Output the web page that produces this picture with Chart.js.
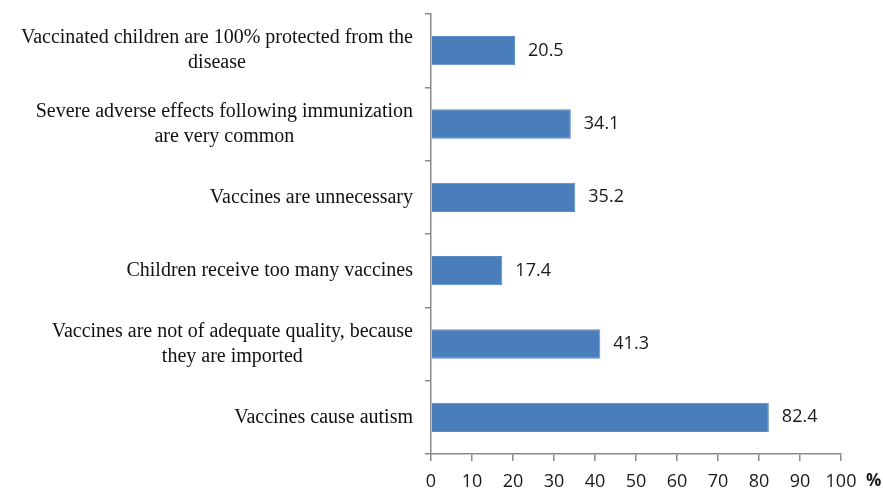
<!DOCTYPE html>
<html>
<head>
<meta charset="utf-8">
<script src="https://cdn.jsdelivr.net/npm/chart.js@4"></script>
<style>
html,body{margin:0;padding:0;background:#fff;}
#wrap{width:883px;height:493px;}
</style>
</head>
<body>
<div id="wrap"><canvas id="c" width="883" height="493"></canvas></div>
<script>
const categories = [
  ["Vaccinated children are 100% protected from the", "disease"],
  ["Severe adverse effects following immunization", "are very common"],
  ["Vaccines are unnecessary"],
  ["Children receive too many vaccines"],
  ["Vaccines are not of adequate quality, because", "they are imported"],
  ["Vaccines cause autism"]
];
const values = [20.5, 34.1, 35.2, 17.4, 41.3, 82.4];
const xTicks = [0, 10, 20, 30, 40, 50, 60, 70, 80, 90, 100];
const unitLabel = "%";

const AXIS = '#8a8a8a';
const serif = '"Liberation Serif", "Times New Roman", serif';
const sans = '"Open Sans", "Liberation Sans", sans-serif';

const labelPlugin = {
  id: 'labels',
  afterDraw(chart) {
    const ctx = chart.ctx;
    const y = chart.scales.y, x = chart.scales.x;
    ctx.save();
    // category labels: block right-aligned, lines centered within block
    ctx.font = '20px ' + serif;
    ctx.fillStyle = '#111';
    ctx.textBaseline = 'middle';
    ctx.textAlign = 'center';
    const lh = 25;
    const rightEdge = y.right - 18;
    categories.forEach((lines, i) => {
      const cy = y.getPixelForValue(i);
      const w = Math.max(...lines.map(l => ctx.measureText(l).width));
      const cx = rightEdge - w / 2;
      const y0 = cy - (lines.length - 1) * lh / 2;
      lines.forEach((l, j) => ctx.fillText(l, cx, y0 + j * lh));
    });
    // value labels
    ctx.font = '18px ' + sans;
    ctx.fillStyle = '#1a1a1a';
    ctx.textAlign = 'left';
    const meta = chart.getDatasetMeta(0);
    meta.data.forEach((bar, i) => {
      ctx.fillText(values[i].toFixed(1), bar.x + 13, bar.y);
    });
    // unit label
    ctx.font = 'bold 17px ' + sans;
    ctx.fillStyle = '#1a1a1a';
    ctx.textAlign = 'left';
    ctx.fillText(unitLabel, x.getPixelForValue(100) + 25, x.bottom - 12);
    ctx.restore();
  }
};

new Chart(document.getElementById('c'), {
  type: 'bar',
  data: {
    labels: categories,
    datasets: [{
      data: values,
      backgroundColor: '#4a7ebb',
      borderColor: '#5a8cc6',
      borderWidth: 1,
      categoryPercentage: 1,
      barPercentage: 0.4
    }]
  },
  options: {
    indexAxis: 'y',
    responsive: false,
    animation: false,
    devicePixelRatio: 1,
    layout: { padding: { top: 14, right: 42, left: 0, bottom: 0 } },
    plugins: { legend: { display: false }, tooltip: { enabled: false } },
    scales: {
      x: {
        min: 0, max: 100,
        afterBuildTicks(s) { s.ticks = xTicks.map(v => ({ value: v })); },
        afterFit(s) { s.height = 39; },
        border: { color: AXIS, width: 1.5 },
        grid: { drawOnChartArea: false, tickLength: 7, color: AXIS, lineWidth: 1.5 },
        ticks: { padding: 10, color: '#1a1a1a', font: { family: sans, size: 18 } }
      },
      y: {
        afterFit(s) { s.width = 431; },
        border: { color: AXIS, width: 1.5 },
        grid: { offset: true, drawOnChartArea: false, tickLength: 6, color: AXIS, lineWidth: 1.5 },
        ticks: { display: false }
      }
    }
  },
  plugins: [labelPlugin]
});
</script>
</body>
</html>
